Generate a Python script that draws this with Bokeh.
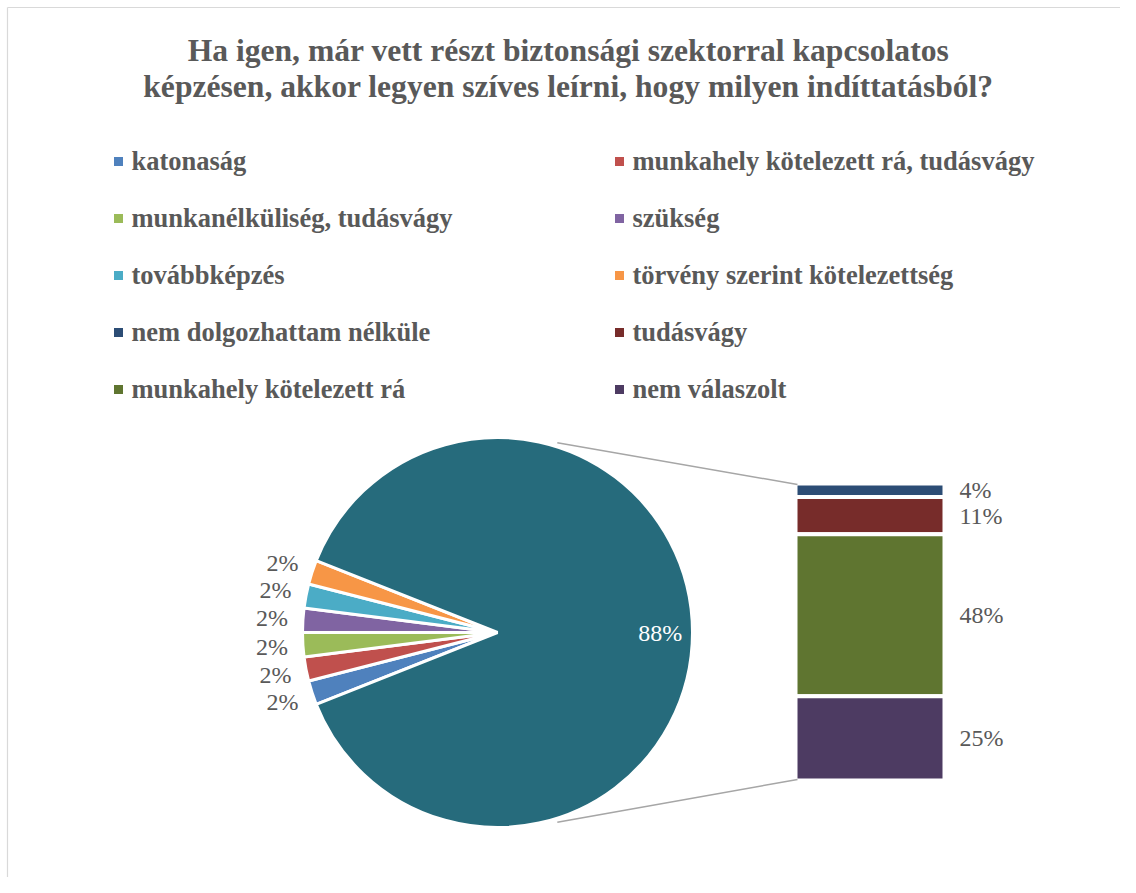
import numpy as np
from bokeh.plotting import figure
from bokeh.models import Range1d
from bokeh.core.properties import value
from bokeh.embed import file_html
from bokeh.resources import INLINE

# ---------------- data ----------------
title_lines = [
    "Ha igen, már vett részt biztonsági szektorral kapcsolatos",
    "képzésen, akkor legyen szíves leírni, hogy milyen indíttatásból?",
]
pie_labels = [
    "katonaság",
    "munkahely kötelezett rá, tudásvágy",
    "munkanélküliség, tudásvágy",
    "szükség",
    "továbbképzés",
    "törvény szerint  kötelezettség",
]
pie_values = [2, 2, 2, 2, 2, 2]
pie_colors = ["#4F81BD", "#C0504D", "#9BBB59", "#8064A2", "#4BACC6", "#F79646"]

bar_labels = [
    "nem dolgozhattam nélküle",
    "tudásvágy",
    "munkahely kötelezett rá",
    "nem válaszolt",
]
bar_values = [4, 11, 48, 25]
bar_colors = ["#2C4D75", "#772C2A", "#5F7530", "#4D3B62"]
other_color = "#266B7C"

# ---------------- figure ----------------
W, H = 1120, 877
p = figure(width=W, height=H, x_range=Range1d(0, W), y_range=Range1d(0, H),
           output_backend="svg", toolbar_location=None, min_border=0)
p.axis.visible = False
p.grid.visible = False
p.outline_line_color = None
p.background_fill_color = "white"
p.border_fill_color = "white"

FONT = value("Liberation Serif")
GRAY = "#595959"

# chart border (top and left visible)
p.segment(x0=[7, 7], y0=[H - 7, H - 7], x1=[W, 7], y1=[H - 7, 0],
          line_color="#D9D9D9", line_width=1.2)

# title
p.text(x=[568, 568], y=[H - 50, H - 86], text=title_lines, text_font=FONT,
       text_font_style="bold", text_font_size=value("31.6px"), text_color=GRAY,
       text_align="center", text_baseline="alphabetic")

# legend (row-major, 2 columns)
legend_labels = pie_labels + bar_labels
legend_colors = pie_colors + bar_colors
n = len(legend_labels)
cols = np.arange(n) % 2
rows = np.arange(n) // 2
sq_x = np.where(cols == 0, 118, 619)
tx_x = sq_x + 13
row_y = (H - 161) - 57 * rows
p.rect(x=sq_x, y=row_y, width=9, height=9, fill_color=legend_colors, line_color=None)
p.text(x=tx_x, y=row_y + 1, text=legend_labels, text_font=FONT,
       text_font_style="bold", text_font_size=value("26.5px"), text_color=GRAY,
       text_align="left", text_baseline="alphabetic")

# pie
cx, cy, R = 497, H - 632, 195
other_value = sum(bar_values)
all_values = pie_values + [other_value]
total = sum(all_values)
deg_per = 360.0 / total
a0 = 180 + sum(pie_values) * deg_per / 2
cum = np.concatenate([[0], np.cumsum(all_values)])
starts = a0 - cum[:-1] * deg_per
ends = a0 - cum[1:] * deg_per
p.wedge(x=cx, y=cy, radius=R, start_angle=list(starts), end_angle=list(ends),
        start_angle_units="deg", end_angle_units="deg", direction="clock",
        fill_color=pie_colors + [other_color], line_color="white", line_width=3)

mids = np.radians((starts + ends) / 2)
lab_r = np.array([226] * len(pie_values) + [0.835 * R])
lx = cx + lab_r * np.cos(mids)
ly = cy + lab_r * np.sin(mids)
p.text(x=lx[:-1], y=ly[:-1], text=[f"{v}%" for v in pie_values], text_font=FONT,
       text_font_size=value("24px"), text_color=GRAY, text_align="center",
       text_baseline="middle")
p.text(x=[lx[-1]], y=[ly[-1]], text=[f"{other_value}%"], text_font=FONT,
       text_font_size=value("24px"), text_color="white", text_align="center",
       text_baseline="middle")

# bar (stacked, first item on top)
bx0, bx1 = 795, 944
b_top, b_bottom = H - 483, H - 780
k = (b_top - b_bottom) / other_value
bcum = np.concatenate([[0], np.cumsum(bar_values)])
tops = b_top - bcum[:-1] * k
bottoms = b_top - bcum[1:] * k
p.quad(left=bx0, right=bx1, top=list(tops), bottom=list(bottoms),
       fill_color=bar_colors, line_color="white", line_width=4)
p.text(x=[959] * len(bar_values), y=list((tops + bottoms) / 2),
       text=[f"{v}%" for v in bar_values], text_font=FONT,
       text_font_size=value("24px"), text_color=GRAY, text_align="left",
       text_baseline="middle")

# connector lines
ca = np.radians(72.5)
rr = R * 1.02
p.segment(x0=[cx + rr * np.cos(ca), cx + rr * np.cos(-ca)],
          y0=[cy + rr * np.sin(ca), cy + rr * np.sin(-ca)],
          x1=[bx0 + 2, bx0 + 2], y1=[b_top - 1, b_bottom + 1],
          line_color="#A6A6A6", line_width=1.5)

open("out.html", "w").write(file_html(p, INLINE))
